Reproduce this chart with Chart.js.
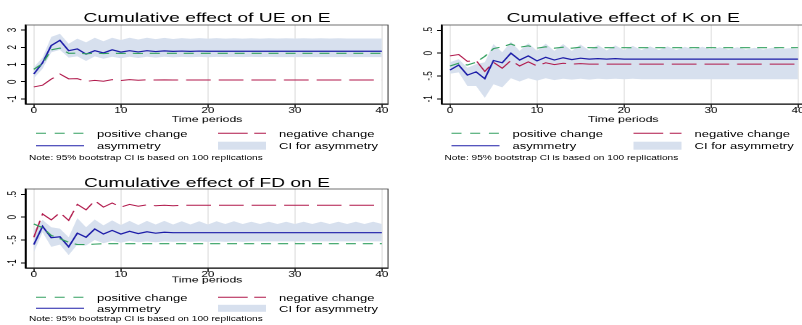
<!DOCTYPE html>
<html>
<head>
<meta charset="utf-8">
<script src="https://cdn.jsdelivr.net/npm/chart.js@4.4.1/dist/chart.umd.min.js"></script>
<style>
  html, body { margin: 0; padding: 0; background: #fff; overflow: hidden; }
  body { width: 802px; height: 325px; position: relative; }
  #stage { position: absolute; left: 0; top: 0; height: 325px; transform-origin: 0 0; font-family: "Liberation Sans", Arial, sans-serif; }
  #stage canvas { position: absolute; }
  #legend { position: absolute; left: 0; top: 0; }
</style>
</head>
<body>
<div id="stage">
  <canvas id="ueChart" width="276" height="126"></canvas>
  <canvas id="kChart" width="276" height="126"></canvas>
  <canvas id="fdChart" width="276" height="126"></canvas>
  <svg id="legend" width="560" height="325"></svg>
</div>
<script>
// time periods (x axis)
const periods = [0, 1, 2, 3, 4, 5, 6, 7, 8, 9, 10, 11, 12, 13, 14, 15, 16, 17, 18, 19, 20,
  21, 22, 23, 24, 25, 26, 27, 28, 29, 30, 31, 32, 33, 34, 35, 36, 37, 38, 39, 40];
const xTickValues = [0, 10, 20, 30, 40];

// Cumulative effect of UE on E
const uePos = [0.72, 1.05, 1.85, 1.95, 1.65, 1.66, 1.62, 1.66, 1.63, 1.66,
  1.64, 1.65, 1.64, 1.65, 1.65, 1.65, 1.65, 1.65, 1.65, 1.65,
  1.65, 1.65, 1.65, 1.65, 1.65, 1.65, 1.65, 1.65, 1.65, 1.65,
  1.65, 1.65, 1.65, 1.65, 1.65, 1.65, 1.65, 1.65, 1.65, 1.65, 1.65];
const ueNeg = [-0.3, -0.2, 0.15, 0.45, 0.17, 0.18, 0.02, 0.08, 0.03, 0.12,
  0.07, 0.12, 0.09, 0.11, 0.1, 0.11, 0.1, 0.1, 0.1, 0.1,
  0.1, 0.1, 0.1, 0.1, 0.1, 0.1, 0.1, 0.1, 0.1, 0.1,
  0.1, 0.1, 0.1, 0.1, 0.1, 0.1, 0.1, 0.1, 0.1, 0.1, 0.1];
const ueAsym = [0.45, 1.1, 2.1, 2.4, 1.8, 1.9, 1.6, 1.8, 1.67, 1.85,
  1.72, 1.8, 1.73, 1.8, 1.75, 1.79, 1.76, 1.78, 1.76, 1.78,
  1.77, 1.77, 1.77, 1.77, 1.77, 1.77, 1.77, 1.77, 1.77, 1.77,
  1.77, 1.77, 1.77, 1.77, 1.77, 1.77, 1.77, 1.77, 1.77, 1.77, 1.77];
const ueUp = [0.85, 1.4, 2.6, 2.78, 2.2, 2.5, 2.28, 2.55, 2.35, 2.55,
  2.42, 2.55, 2.45, 2.55, 2.47, 2.54, 2.48, 2.53, 2.49, 2.53,
  2.5, 2.53, 2.5, 2.52, 2.5, 2.52, 2.5, 2.52, 2.51, 2.52,
  2.51, 2.52, 2.51, 2.52, 2.51, 2.52, 2.51, 2.51, 2.51, 2.51, 2.51];
const ueLow = [0.2, 0.75, 1.7, 1.85, 1.4, 1.47, 1.2, 1.47, 1.33, 1.45,
  1.36, 1.45, 1.38, 1.45, 1.4, 1.45, 1.41, 1.44, 1.42, 1.44,
  1.42, 1.44, 1.43, 1.44, 1.43, 1.44, 1.43, 1.44, 1.43, 1.43,
  1.43, 1.43, 1.43, 1.43, 1.43, 1.43, 1.43, 1.43, 1.43, 1.43, 1.43];
const ueYTicks = [-1, 0, 1, 2, 3];
const ueYTickLabels = ["-1", "0", "1", "2", "3"];

// Cumulative effect of K on E
const kPos = [-0.28, -0.22, -0.26, -0.2, -0.07, 0.1, 0.14, 0.2, 0.13, 0.16,
  0.11, 0.14, 0.11, 0.13, 0.11, 0.13, 0.12, 0.12, 0.12, 0.12,
  0.12, 0.12, 0.12, 0.12, 0.12, 0.12, 0.12, 0.12, 0.12, 0.12,
  0.12, 0.12, 0.12, 0.12, 0.12, 0.12, 0.12, 0.12, 0.12, 0.12, 0.12];
const kNeg = [-0.06, -0.03, -0.18, -0.16, -0.4, -0.2, -0.33, -0.16, -0.28, -0.19,
  -0.28, -0.21, -0.25, -0.22, -0.24, -0.23, -0.24, -0.24, -0.24, -0.24,
  -0.24, -0.24, -0.24, -0.24, -0.24, -0.24, -0.24, -0.24, -0.24, -0.24,
  -0.24, -0.24, -0.24, -0.24, -0.24, -0.24, -0.24, -0.24, -0.24, -0.24, -0.24];
const kAsym = [-0.37, -0.26, -0.48, -0.41, -0.56, -0.16, -0.21, 0.0, -0.15, -0.06,
  -0.17, -0.09, -0.15, -0.1, -0.14, -0.11, -0.13, -0.12, -0.13, -0.12,
  -0.13, -0.13, -0.13, -0.13, -0.13, -0.13, -0.13, -0.13, -0.13, -0.13,
  -0.13, -0.13, -0.13, -0.13, -0.13, -0.13, -0.13, -0.13, -0.13, -0.13, -0.13];
const kUp = [-0.2, -0.13, -0.32, -0.24, -0.2, 0.2, 0.02, 0.25, 0.05, 0.22,
  0.05, 0.21, 0.05, 0.2, 0.05, 0.19, 0.06, 0.18, 0.06, 0.17,
  0.07, 0.16, 0.07, 0.15, 0.07, 0.15, 0.07, 0.14, 0.08, 0.14,
  0.08, 0.13, 0.08, 0.13, 0.08, 0.12, 0.08, 0.12, 0.09, 0.11, 0.09];
const kLow = [-0.45, -0.42, -0.72, -0.72, -0.98, -0.68, -0.75, -0.55, -0.62, -0.55,
  -0.6, -0.55, -0.59, -0.56, -0.58, -0.56, -0.58, -0.56, -0.57, -0.56,
  -0.57, -0.56, -0.57, -0.57, -0.57, -0.57, -0.57, -0.57, -0.57, -0.57,
  -0.57, -0.57, -0.57, -0.57, -0.57, -0.57, -0.57, -0.57, -0.57, -0.57, -0.57];
const kYTicks = [-1, -0.5, 0, 0.5];
const kYTickLabels = ["-1", "-.5", "0", ".5"];

// Cumulative effect of FD on E
const fdPos = [-0.15, -0.23, -0.4, -0.47, -0.55, -0.6, -0.6, -0.59, -0.58, -0.58,
  -0.58, -0.58, -0.58, -0.58, -0.58, -0.58, -0.58, -0.58, -0.58, -0.58,
  -0.58, -0.58, -0.58, -0.58, -0.58, -0.58, -0.58, -0.58, -0.58, -0.58,
  -0.58, -0.58, -0.58, -0.58, -0.58, -0.58, -0.58, -0.58, -0.58, -0.58, -0.58];
const fdNeg = [-0.44, 0.07, -0.06, 0.1, -0.07, 0.28, 0.16, 0.36, 0.22, 0.31,
  0.22, 0.28, 0.24, 0.27, 0.25, 0.26, 0.25, 0.26, 0.26, 0.26,
  0.26, 0.26, 0.26, 0.26, 0.26, 0.26, 0.26, 0.26, 0.26, 0.26,
  0.26, 0.26, 0.26, 0.26, 0.26, 0.26, 0.26, 0.26, 0.26, 0.26, 0.26];
const fdAsym = [-0.6, -0.2, -0.45, -0.43, -0.65, -0.35, -0.44, -0.26, -0.37, -0.29,
  -0.37, -0.31, -0.36, -0.32, -0.35, -0.33, -0.34, -0.34, -0.34, -0.34,
  -0.34, -0.34, -0.34, -0.34, -0.34, -0.34, -0.34, -0.34, -0.34, -0.34,
  -0.34, -0.34, -0.34, -0.34, -0.34, -0.34, -0.34, -0.34, -0.34, -0.34, -0.34];
const fdUp = [-0.29, -0.06, -0.22, -0.25, -0.44, -0.02, -0.22, -0.05, -0.18, -0.07,
  -0.17, -0.08, -0.17, -0.08, -0.16, -0.08, -0.16, -0.09, -0.16, -0.09,
  -0.16, -0.09, -0.15, -0.09, -0.15, -0.1, -0.15, -0.1, -0.15, -0.1,
  -0.15, -0.1, -0.15, -0.1, -0.15, -0.1, -0.15, -0.1, -0.15, -0.1, -0.15];
const fdLow = [-0.77, -0.33, -0.65, -0.6, -0.83, -0.6, -0.62, -0.5, -0.57, -0.52,
  -0.56, -0.52, -0.55, -0.53, -0.55, -0.53, -0.54, -0.53, -0.54, -0.53,
  -0.54, -0.53, -0.54, -0.53, -0.54, -0.53, -0.53, -0.53, -0.53, -0.53,
  -0.53, -0.53, -0.53, -0.53, -0.53, -0.53, -0.53, -0.53, -0.53, -0.53, -0.53];

const legendLabels = ["positive change", "negative change", "asymmetry", "CI for asymmetry"];
const noteText = "Note: 95% bootstrap CI is based on 100 replications";

// the reference picture is stretched horizontally, so the whole stage is too
const S = 1.45;
const FONT = '"Liberation Sans", Arial, sans-serif';
const GREEN = "#33a060";
const RED = "#b0174a";
const BLUE = "#1c1ca8";
const BAND = "#d7e0ee";

Chart.defaults.font.family = FONT;
Chart.defaults.color = "#000";

const stage = document.getElementById("stage");
stage.style.width = (802 / S) + "px";
stage.style.transform = "scaleX(" + S + ")";

function series(vals) {
  return periods.map((t, i) => ({ x: t, y: vals[i] }));
}

const framePlugin = {
  id: "frame",
  afterDatasetsDraw(chart) {
    const { ctx, chartArea: a } = chart;
    ctx.save();
    ctx.strokeStyle = "#444";
    ctx.lineWidth = 0.7;
    ctx.beginPath();
    ctx.moveTo(a.left, a.top);
    ctx.lineTo(a.right, a.top);
    ctx.lineTo(a.right, a.bottom);
    ctx.stroke();
    ctx.restore();
  },
};

// Stata style vertical y labels
const yLabelPlugin = {
  id: "yLabels",
  afterDraw(chart, args, opts) {
    const { ctx } = chart;
    const y = chart.scales.y;
    ctx.save();
    ctx.font = "8px " + FONT;
    ctx.fillStyle = "#000";
    ctx.textAlign = "center";
    ctx.textBaseline = "middle";
    opts.values.forEach((v, i) => {
      ctx.save();
      ctx.translate(opts.x, y.getPixelForValue(v));
      ctx.rotate(-Math.PI / 2);
      ctx.fillText(opts.labels[i], 0, 0);
      ctx.restore();
    });
    ctx.restore();
  },
};

function makePanel(id, p) {
  const canvas = document.getElementById(id);
  canvas.style.left = (p.ox / S) + "px";
  canvas.style.top = p.oy + "px";
  new Chart(canvas, {
    type: "line",
    data: {
      datasets: [
        { label: legendLabels[0], data: series(p.pos), borderColor: GREEN, borderWidth: 1.1, borderDash: [6.9, 4.8], pointRadius: 0, fill: false },
        { label: legendLabels[1], data: series(p.neg), borderColor: RED, borderWidth: 1, borderDash: [17, 5.5], pointRadius: 0, fill: false },
        { label: legendLabels[2], data: series(p.asym), borderColor: BLUE, borderWidth: 1.2, pointRadius: 0, fill: false },
        { label: "CI lower", data: series(p.low), borderWidth: 0, borderColor: "rgba(0,0,0,0)", pointRadius: 0, fill: false },
        { label: legendLabels[3], data: series(p.up), borderWidth: 0, borderColor: "rgba(0,0,0,0)", backgroundColor: BAND, pointRadius: 0, fill: "-1" },
      ],
    },
    options: {
      responsive: false,
      animation: false,
      devicePixelRatio: 2,
      events: [],
      layout: { padding: { left: 0, right: 276 - 388 / S, top: 0, bottom: p.padB } },
      plugins: {
        legend: { display: false },
        tooltip: { enabled: false },
        title: {
          display: true,
          fullSize: false,
          text: p.title,
          color: "#000",
          font: { size: 13.3, weight: "normal", lineHeight: 0.8 },
          padding: { top: p.titleTop, bottom: 25 - 13.3 * 0.8 - p.titleTop },
        },
        yLabels: { values: p.yTicks, labels: p.yLabels, x: 12.7 / S },
      },
      scales: {
        x: {
          type: "linear",
          min: -0.9,
          max: 40.7,
          afterBuildTicks: (s) => { s.ticks = xTickValues.map((v) => ({ value: v })); },
          afterFit: (s) => { s.height = 22 - p.padB; },
          grid: { color: "#e3e3e3", lineWidth: 0.8, tickColor: "#000", tickLength: 4, tickWidth: 0.8 },
          border: { color: "#000", width: 1.2 },
          ticks: { color: "#000", font: { size: 8, lineHeight: 1 }, padding: -1, maxRotation: 0, autoSkip: false },
          title: { display: true, text: "Time periods", color: "#000", font: { size: 8.5, lineHeight: 1 }, padding: 0 },
        },
        y: {
          min: p.yMin,
          max: p.yMax,
          afterBuildTicks: (s) => { s.ticks = p.yTicks.map((v) => ({ value: v })); },
          afterFit: (s) => { s.width = 26 / S; },
          grid: { drawOnChartArea: false, tickColor: "#000", tickLength: 5 / S, tickWidth: 1 },
          border: { color: "#000", width: 1.4 },
          ticks: { display: false },
        },
      },
    },
    plugins: [framePlugin, yLabelPlugin],
  });
}

makePanel("ueChart", {
  ox: 0, oy: 0, padB: 2.25, titleTop: 13, title: "Cumulative effect of UE on E",
  pos: uePos, neg: ueNeg, asym: ueAsym, low: ueLow, up: ueUp,
  yMin: -1.29, yMax: 3.29, yTicks: ueYTicks, yLabels: ueYTickLabels,
});
makePanel("kChart", {
  ox: 415.5, oy: 0, padB: 2.25, titleTop: 13, title: "Cumulative effect of K on E",
  pos: kPos, neg: kNeg, asym: kAsym, low: kLow, up: kUp,
  yMin: -1.113, yMax: 0.617, yTicks: kYTicks, yLabels: kYTickLabels,
});
makePanel("fdChart", {
  ox: 0, oy: 164, padB: 5.75, titleTop: 14.2, title: "Cumulative effect of FD on E",
  pos: fdPos, neg: fdNeg, asym: fdAsym, low: fdLow, up: fdUp,
  yMin: -1.113, yMax: 0.617, yTicks: kYTicks, yLabels: kYTickLabels,
});

// legends (SVG, like the Stata legend box)
const svg = document.getElementById("legend");
const NS = "http://www.w3.org/2000/svg";
function el(tag, attrs, text) {
  const e = document.createElementNS(NS, tag);
  for (const k in attrs) e.setAttribute(k, attrs[k]);
  if (text) e.textContent = text;
  svg.appendChild(e);
}
function legendBlock(ox, r1, r2, noteY, patchH) {
  const X = (v) => (ox + v) / S;
  el("line", { x1: X(36), y1: r1, x2: X(84), y2: r1, stroke: GREEN, "stroke-width": 1.1, "stroke-dasharray": "6.9 6" });
  el("line", { x1: X(218), y1: r1, x2: X(266), y2: r1, stroke: RED, "stroke-width": 1, "stroke-dasharray": "20.5 4.5" });
  el("line", { x1: X(36), y1: r2, x2: X(84), y2: r2, stroke: BLUE, "stroke-width": 1.1 });
  el("rect", { x: X(218), y: r2 - patchH / 2, width: 48 / S, height: patchH, fill: BAND });
  const t = { "font-size": 9, "font-family": FONT, "dominant-baseline": "central", fill: "#000" };
  el("text", Object.assign({ x: X(97), y: r1 }, t), legendLabels[0]);
  el("text", Object.assign({ x: X(279), y: r1 }, t), legendLabels[1]);
  el("text", Object.assign({ x: X(97), y: r2 }, t), legendLabels[2]);
  el("text", Object.assign({ x: X(279), y: r2 }, t), legendLabels[3]);
  el("text", { x: X(29), y: noteY, "font-size": 7, "font-family": FONT, "dominant-baseline": "central", fill: "#000" }, noteText);
}
legendBlock(0, 133.3, 145.7, 157.7, 8);
legendBlock(415.5, 133.3, 145.7, 157.7, 8);
legendBlock(0, 297.3, 308.3, 318.3, 7);
</script>
</body>
</html>
